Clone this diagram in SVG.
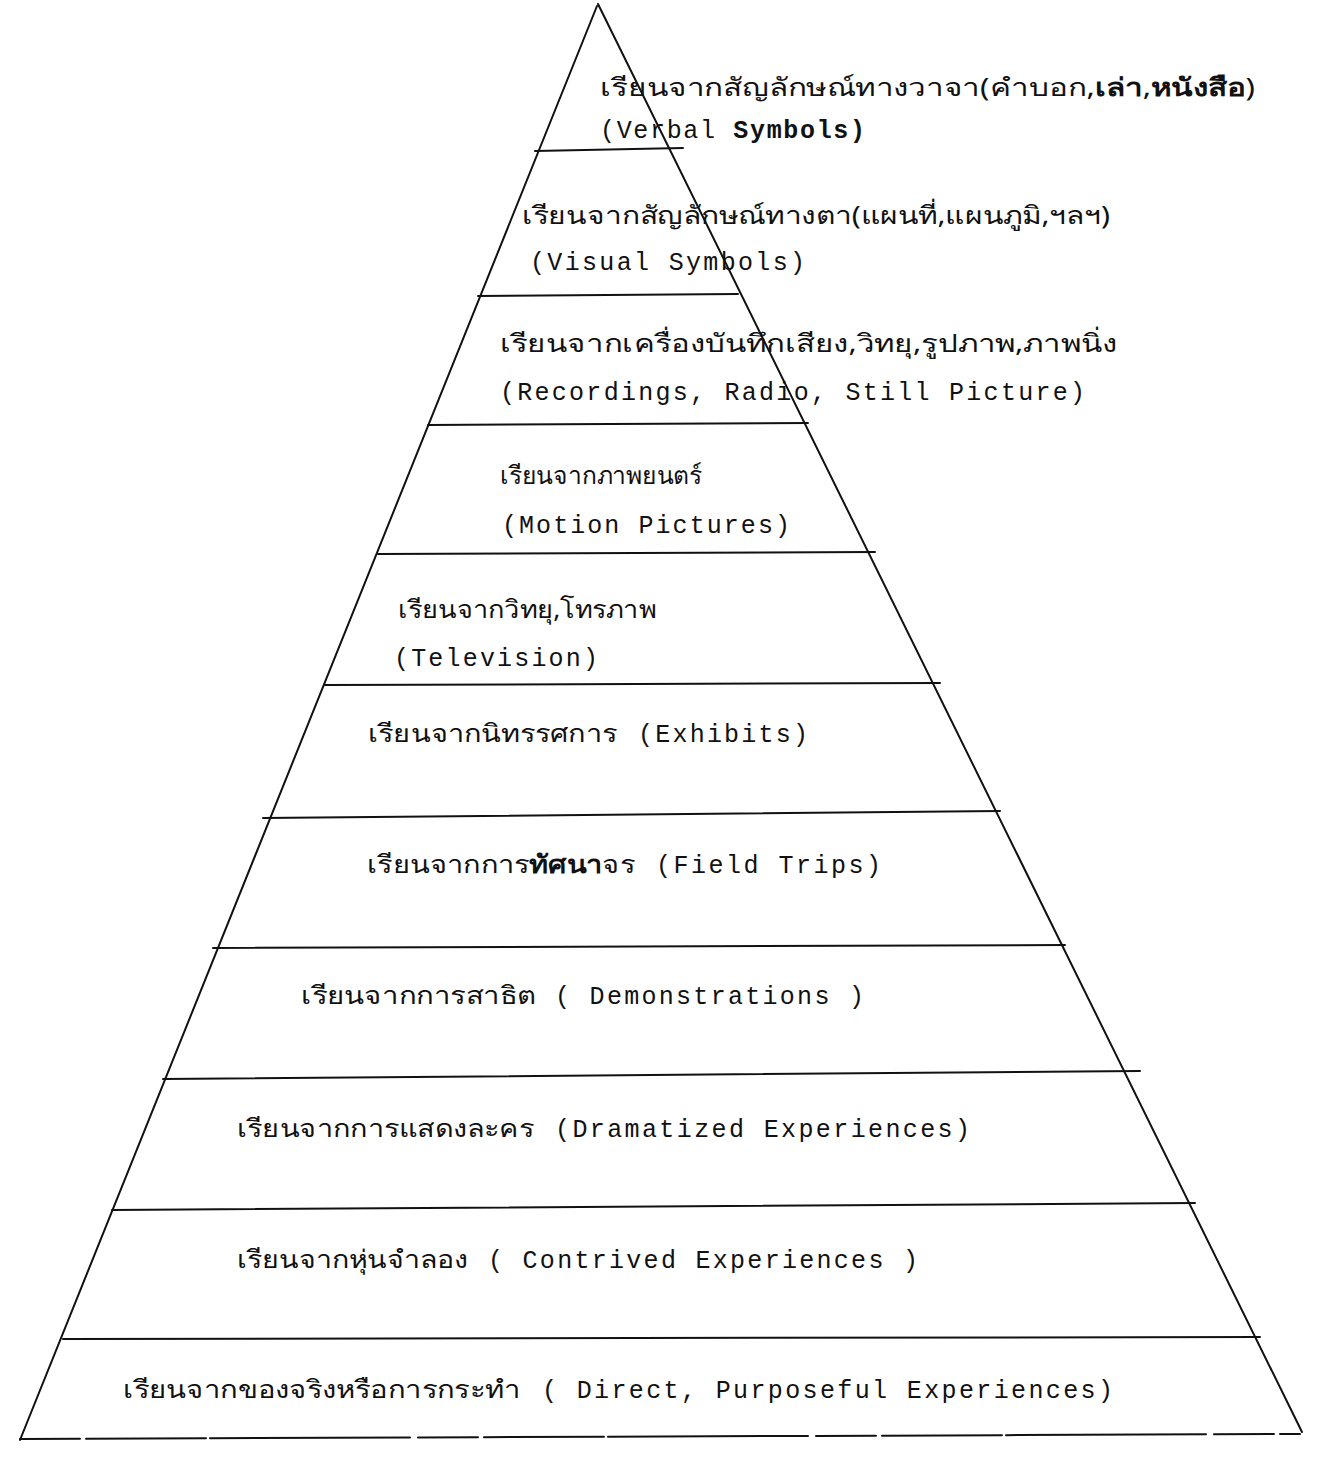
<svg xmlns="http://www.w3.org/2000/svg" width="1318" height="1460" viewBox="0 0 1318 1460">
<style>
.edge{stroke:#111;stroke-width:2;fill:none;stroke-linecap:round}
.th{font-family:"Noto Sans","DejaVu Sans","Liberation Mono",sans-serif;font-size:25px;fill:#111}
.en{font-family:"Liberation Mono","DejaVu Sans Mono",monospace;font-size:25px;fill:#111}
.b{font-weight:bold}
</style>
<rect x="0" y="0" width="1318" height="1460" fill="#fff"/>
<g id="cone">
<line class="edge" x1="597" y1="6" x2="20" y2="1440"/>
<line class="edge" x1="598" y1="4" x2="1302" y2="1432"/>
<line class="edge" x1="535" y1="151" x2="683" y2="148"/>
<line class="edge" x1="478" y1="296" x2="738" y2="294"/>
<line class="edge" x1="428" y1="425" x2="808" y2="423"/>
<line class="edge" x1="378" y1="554" x2="875" y2="552"/>
<line class="edge" x1="325" y1="685" x2="940" y2="683"/>
<line class="edge" x1="263" y1="818" x2="1000" y2="811"/>
<line class="edge" x1="213" y1="948" x2="1065" y2="945"/>
<line class="edge" x1="163" y1="1079" x2="1140" y2="1071"/>
<line class="edge" x1="112" y1="1210" x2="1195" y2="1203"/>
<line class="edge" x1="63" y1="1339" x2="1260" y2="1337"/>
<line class="edge" x1="20" y1="1439" x2="1300" y2="1434" stroke-dasharray="60 6 120 4 200 8"/>
</g>
<g id="connectors"></g>
<g id="level-1">
<text class="th" x="600" y="96" textLength="655" lengthAdjust="spacingAndGlyphs">เรียนจากสัญลักษณ์ทางวาจา(คำบอก,<tspan class="b">เล่า</tspan>,<tspan class="b">หนังสือ</tspan>)</text>
<text class="en" x="600" y="138" textLength="265">(Verbal <tspan class="b">Symbols)</tspan></text>
</g>
<g id="level-2">
<text class="th" x="522" y="224" textLength="588" lengthAdjust="spacingAndGlyphs">เรียนจากสัญลักษณ์ทางตา(แผนที่,แผนภูมิ,ฯลฯ)</text>
<text class="en" x="530" y="270" textLength="275">(Visual Symbols)</text>
</g>
<g id="level-3">
<text class="th" x="500" y="352" textLength="617" lengthAdjust="spacingAndGlyphs">เรียนจากเครื่องบันทึกเสียง,วิทยุ,รูปภาพ,ภาพนิ่ง</text>
<text class="en" x="500" y="400" textLength="585">(Recordings, Radio, Still Picture)</text>
</g>
<g id="level-4">
<text class="th" x="500" y="484" textLength="202" lengthAdjust="spacingAndGlyphs">เรียนจากภาพยนตร์</text>
<text class="en" x="502" y="533" textLength="288">(Motion Pictures)</text>
</g>
<g id="level-5">
<text class="th" x="398" y="618" textLength="258" lengthAdjust="spacingAndGlyphs">เรียนจากวิทยุ,โทรภาพ</text>
<text class="en" x="394" y="666" textLength="204">(Television)</text>
</g>
<g id="level-6">
<text class="th" x="368" y="742" textLength="249" lengthAdjust="spacingAndGlyphs">เรียนจากนิทรรศการ</text>
<text class="en" x="638" y="742" textLength="170">(Exhibits)</text>
</g>
<g id="level-7">
<text class="th" x="367" y="873" textLength="268" lengthAdjust="spacingAndGlyphs">เรียนจากการ<tspan class="b">ทัศนา</tspan>จร</text>
<text class="en" x="656" y="873" textLength="225">(Field Trips)</text>
</g>
<g id="level-8">
<text class="th" x="301" y="1004" textLength="235" lengthAdjust="spacingAndGlyphs">เรียนจากการสาธิต</text>
<text class="en" x="555" y="1004" textLength="309">( Demonstrations )</text>
</g>
<g id="level-9">
<text class="th" x="237" y="1137" textLength="297" lengthAdjust="spacingAndGlyphs">เรียนจากการแสดงละคร</text>
<text class="en" x="555" y="1137" textLength="415">(Dramatized Experiences)</text>
</g>
<g id="level-10">
<text class="th" x="237" y="1268" textLength="231" lengthAdjust="spacingAndGlyphs">เรียนจากหุ่นจำลอง</text>
<text class="en" x="488" y="1268" textLength="430">( Contrived Experiences )</text>
</g>
<g id="level-11">
<text class="th" x="123" y="1398" textLength="397" lengthAdjust="spacingAndGlyphs">เรียนจากของจริงหรือการกระทำ</text>
<text class="en" x="542" y="1398" textLength="571">( Direct, Purposeful Experiences)</text>
</g>
</svg>
